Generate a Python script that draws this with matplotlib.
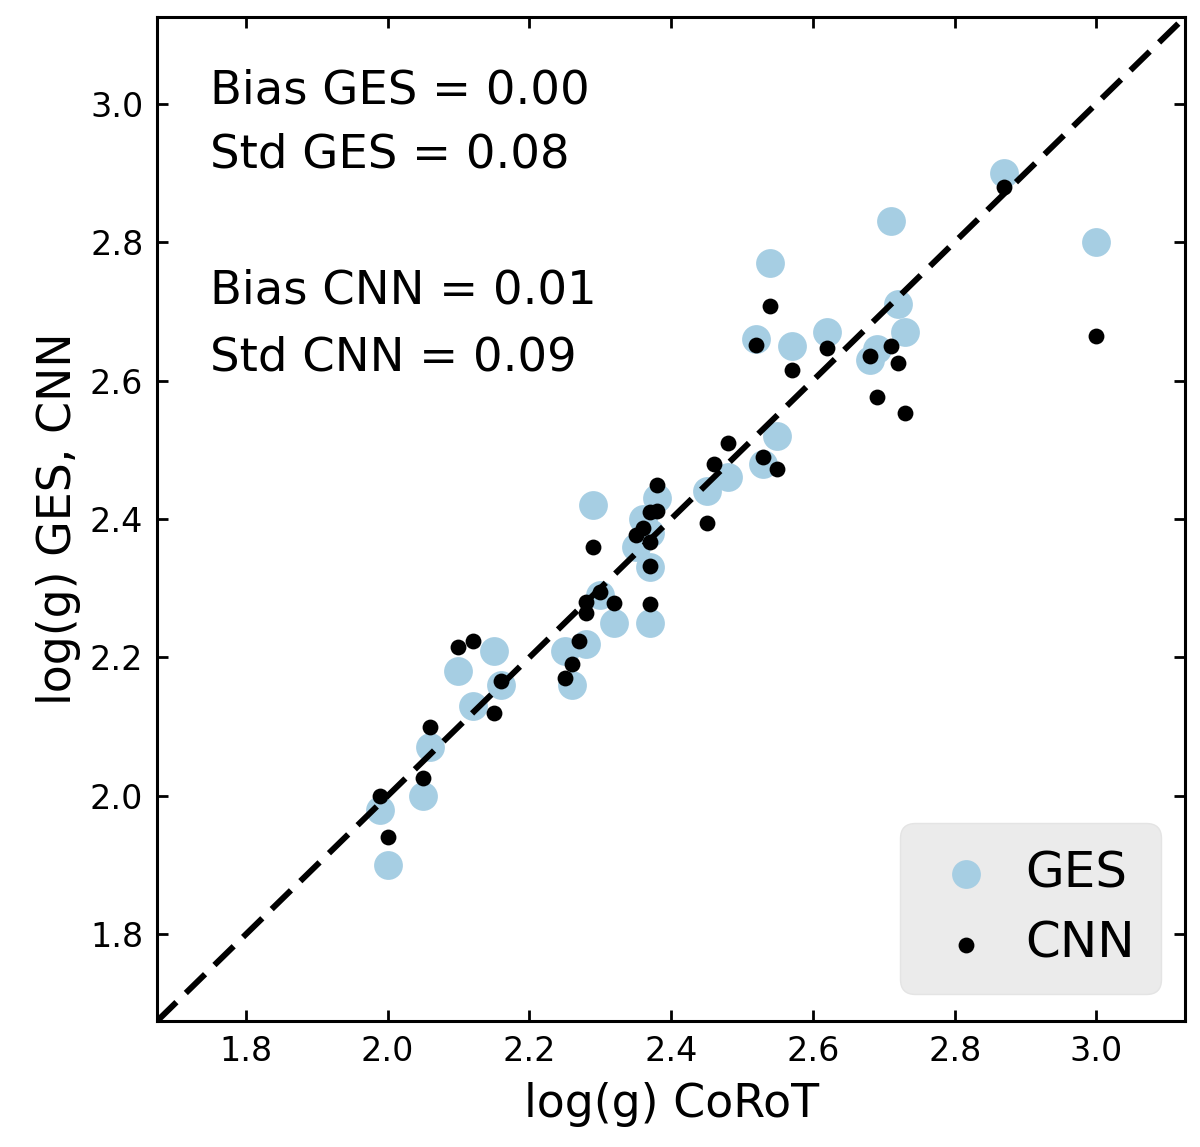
import matplotlib
matplotlib.use("Agg")
import matplotlib.pyplot as plt

# CoRoT log(g) vs GES log(g)
corot_ges = [1.99, 2.00, 2.05, 2.06, 2.10, 2.12, 2.15, 2.16, 2.25, 2.26, 2.28, 2.29,
             2.30, 2.32, 2.35, 2.36, 2.37, 2.37, 2.37, 2.38, 2.45, 2.48, 2.53, 2.55,
             2.52, 2.54, 2.57, 2.62, 2.68, 2.69, 2.71, 2.72, 2.73, 2.87, 3.00]
logg_ges = [1.98, 1.90, 2.00, 2.07, 2.18, 2.13, 2.21, 2.16, 2.21, 2.16, 2.22, 2.42,
            2.29, 2.25, 2.36, 2.40, 2.38, 2.33, 2.25, 2.43, 2.44, 2.46, 2.48, 2.52,
            2.66, 2.77, 2.65, 2.67, 2.63, 2.645, 2.83, 2.71, 2.67, 2.90, 2.80]

# CoRoT log(g) vs CNN log(g)
corot_cnn = [1.99, 2.00, 2.05, 2.06, 2.10, 2.12, 2.15, 2.16, 2.25, 2.26, 2.27, 2.28,
             2.28, 2.29, 2.30, 2.32, 2.35, 2.36, 2.37, 2.37, 2.37, 2.37, 2.38, 2.38,
             2.45, 2.46, 2.48, 2.53, 2.55, 2.52, 2.54, 2.57, 2.62, 2.68, 2.69, 2.71,
             2.72, 2.73, 2.87, 3.00]
logg_cnn = [2.00, 1.94, 2.026, 2.10, 2.215, 2.224, 2.12, 2.166, 2.17, 2.19, 2.224, 2.28,
            2.264, 2.36, 2.294, 2.279, 2.377, 2.387, 2.41, 2.367, 2.332, 2.277, 2.412, 2.449,
            2.394, 2.48, 2.51, 2.49, 2.472, 2.652, 2.708, 2.615, 2.647, 2.636, 2.576, 2.65,
            2.625, 2.553, 2.88, 2.665]

stats_lines = ["Bias GES = 0.00", "Std GES = 0.08", "Bias CNN = 0.01", "Std CNN = 0.09"]
ticks = [1.8, 2.0, 2.2, 2.4, 2.6, 2.8, 3.0]
lims = [1.675, 3.125]

fig = plt.figure(figsize=(12, 11.47), dpi=100)
ax = fig.add_axes([0.131, 0.1099, 0.8565, 0.8752])

ax.scatter(corot_ges, logg_ges, s=430, color="#a6cee3", label="GES", zorder=2, linewidths=0)
ax.scatter(corot_cnn, logg_cnn, s=130, color="black", label="CNN", zorder=3, linewidths=0)
ax.plot(lims, lims, color="black", linestyle=(0, (4.5, 2.2)), linewidth=4.3, zorder=4)

ax.set_xlim(lims)
ax.set_ylim(lims)
ax.set_xticks(ticks)
ax.set_yticks(ticks)
ax.tick_params(direction="in", top=True, right=True, length=8, width=2, labelsize=24, pad=10)
for sp in ax.spines.values():
    sp.set_linewidth(2.2)

ax.set_xlabel("log(g) CoRoT", fontsize=33, labelpad=10)
ax.set_ylabel("log(g) GES, CNN", fontsize=33, labelpad=6)

ypos = [0.914, 0.850, 0.715, 0.648]
for t, yy in zip(stats_lines, ypos):
    ax.text(0.0516, yy, t, transform=ax.transAxes, fontsize=33.5, va="baseline", ha="left")

leg = ax.legend(loc="lower right", fontsize=36, frameon=True, facecolor="#ebebeb",
                edgecolor="#e4e4e4", framealpha=1, borderpad=0.5, handletextpad=0.4,
                handlelength=1.6, labelspacing=0.45, borderaxespad=0,
                scatterpoints=1, bbox_to_anchor=(0.976, 0.028))
leg.get_frame().set_boxstyle("round", pad=0.02, rounding_size=0.3)

fig.savefig("out.png", dpi=100)
